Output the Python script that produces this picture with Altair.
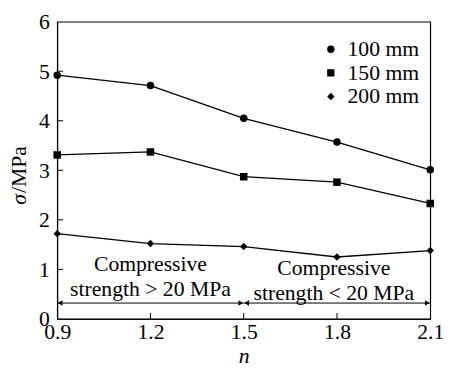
import altair as alt
import pandas as pd

n_vals = [0.9, 1.2, 1.5, 1.8, 2.1]
s100 = [4.92, 4.71, 4.05, 3.57, 3.01]
s150 = [3.31, 3.37, 2.87, 2.76, 2.33]
s200 = [1.72, 1.52, 1.46, 1.25, 1.38]
series_names = ["100 mm", "150 mm", "200 mm"]
y_ticks = [0, 1, 2, 3, 4, 5, 6]
x_ticks = [0.9, 1.2, 1.5, 1.8, 2.1]

rows = []
for name, vals in zip(series_names, [s100, s150, s200]):
    for n, v in zip(n_vals, vals):
        rows.append({"n": n, "sigma": v, "series": name})
df = pd.DataFrame(rows)

FONT = "Liberation Serif"
xs = alt.Scale(domain=[0.9, 2.1], nice=False, zero=False)
ys = alt.Scale(domain=[0, 6], nice=False)

base = alt.Chart(df)
lines = base.mark_line(color="black", strokeWidth=1.3).encode(
    x=alt.X("n:Q", scale=xs, axis=alt.Axis(values=x_ticks, format=".1f", title="n",
                                            titleFontStyle="italic", ticks=False,
                                            labelFlush=False, grid=False, labelPadding=3,
                                            titlePadding=3)),
    y=alt.Y("sigma:Q", scale=ys, axis=alt.Axis(values=y_ticks, title=None, ticks=False,
                                                grid=False, labelPadding=8)),
    detail="series:N",
)
points = base.mark_point(filled=True, color="black", opacity=1, size=58).encode(
    x=alt.X("n:Q", scale=xs),
    y=alt.Y("sigma:Q", scale=ys),
    shape=alt.Shape("series:N",
                    scale=alt.Scale(domain=series_names, range=["circle", "square", "diamond"]),
                    legend=alt.Legend(title=None, orient="none", legendX=267, legendY=17,
                                      labelFont=FONT, labelFontSize=22, labelColor="black",
                                      symbolFillColor="black", symbolStrokeColor="black",
                                      symbolSize=55, rowPadding=2, labelOffset=6)),
)

# inside ticks
ytick_df = pd.DataFrame({"v": y_ticks[1:-1]})
yt = alt.Chart(ytick_df).mark_rule(color="black").encode(
    y=alt.Y("v:Q", scale=ys), x=alt.value(0), x2=alt.value(6))
xtick_df = pd.DataFrame({"v": x_ticks[1:-1]})
xt = alt.Chart(xtick_df).mark_rule(color="black").encode(
    x=alt.X("v:Q", scale=xs), y=alt.value(alt.expr("height")), y2=alt.value(alt.expr("height - 6")))

# arrows
arrow_df = pd.DataFrame({"x1": [0.9, 1.5], "x2": [1.5, 2.1], "y": [0.32, 0.32]})
arr = alt.Chart(arrow_df).mark_rule(color="black", strokeWidth=1).encode(
    x=alt.X("x1:Q", scale=xs), x2="x2:Q", y=alt.Y("y:Q", scale=ys))
heads_l = alt.Chart(arrow_df).mark_point(shape="triangle-left", filled=True, color="black",
                                         opacity=1, size=30, xOffset=3).encode(
    x=alt.X("x1:Q", scale=xs), y=alt.Y("y:Q", scale=ys))
heads_r = alt.Chart(arrow_df).mark_point(shape="triangle-right", filled=True, color="black",
                                         opacity=1, size=30, xOffset=-3).encode(
    x=alt.X("x2:Q", scale=xs), y=alt.Y("y:Q", scale=ys))

ann_df = pd.DataFrame({
    "x": [1.2, 1.2, 1.79, 1.79],
    "y": [1.1, 0.6, 1.03, 0.53],
    "t": ["Compressive", "strength > 20 MPa", "Compressive", "strength < 20 MPa"],
})
ann = alt.Chart(ann_df).mark_text(font=FONT, fontSize=22, color="black").encode(
    x=alt.X("x:Q", scale=xs), y=alt.Y("y:Q", scale=ys), text="t:N")

ytitle_s = alt.Chart(pd.DataFrame({"t": ["σ"]})).mark_text(
    font=FONT, fontSize=22, color="black", angle=270, fontStyle="italic", align="left",
    baseline="middle").encode(
    x=alt.value(-39), y=alt.value(186), text="t:N")
ytitle_m = alt.Chart(pd.DataFrame({"t": ["/MPa"]})).mark_text(
    font=FONT, fontSize=22, color="black", angle=270, align="left", baseline="middle").encode(
    x=alt.value(-39), y=alt.value(174), text="t:N")

chart = alt.layer(lines, points, yt, xt, arr, heads_l, heads_r, ann, ytitle_s, ytitle_m).properties(
    width=443, height=361, padding=0,
    autosize=alt.AutoSizeParams(type="fit", contains="padding"),
).configure_view(stroke="black", strokeWidth=1.2).configure_axis(
    labelFont=FONT, labelFontSize=22, labelColor="black", titleFont=FONT,
    titleFontSize=22, titleColor="black", titleFontWeight="normal",
    domainColor="black",
)

chart.save("out.html", embed_options={"renderer": "svg", "actions": False})
